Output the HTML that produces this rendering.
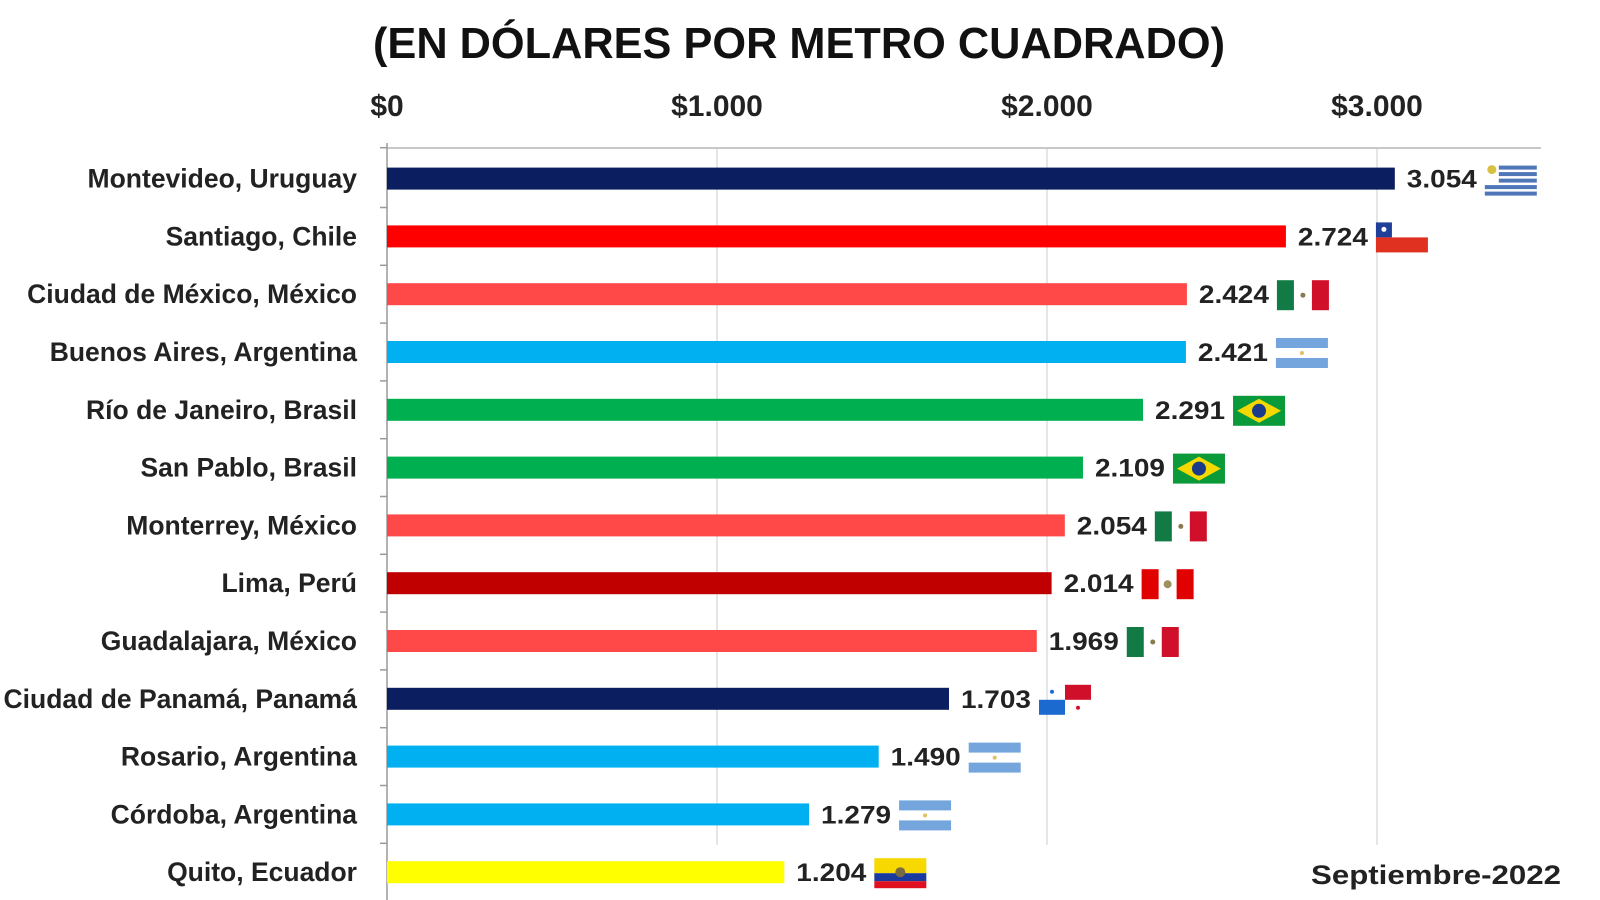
<!DOCTYPE html>
<html><head><meta charset="utf-8"><style>
html,body{margin:0;padding:0;background:#fff;}
svg{display:block;font-family:"Liberation Sans",sans-serif;}
</style></head><body>
<svg id="chart" width="1600" height="900" viewBox="0 0 1600 900" xmlns="http://www.w3.org/2000/svg">
<text x="799" y="58" text-anchor="middle" font-size="44" font-weight="bold" fill="#111" textLength="852" lengthAdjust="spacingAndGlyphs">(EN DÓLARES POR METRO CUADRADO)</text>
<text x="1561" y="884" text-anchor="end" font-size="27" font-weight="bold" fill="#222" textLength="250" lengthAdjust="spacingAndGlyphs">Septiembre-2022</text>
<g id="grid"></g><g id="bars"></g>
</svg>
<script>
const categories = ["Montevideo, Uruguay","Santiago, Chile","Ciudad de México, México","Buenos Aires, Argentina","Río de Janeiro, Brasil","San Pablo, Brasil","Monterrey, México","Lima, Perú","Guadalajara, México","Ciudad de Panamá, Panamá","Rosario, Argentina","Córdoba, Argentina","Quito, Ecuador"];
const values = [3054,2724,2424,2421,2291,2109,2054,2014,1969,1703,1490,1279,1204];
const valueLabels = ["3.054","2.724","2.424","2.421","2.291","2.109","2.054","2.014","1.969","1.703","1.490","1.279","1.204"];
const countries = ["uy","cl","mx","ar","br","br","mx","pe","mx","pa","ar","ar","ec"];
const tickValues = [0,1000,2000,3000];
const tickLabels = ["$0","$1.000","$2.000","$3.000"];

const NS="http://www.w3.org/2000/svg";
const colors={uy:"#0b1f60",cl:"#ff0000",mx:"#ff4848",ar:"#00b0f0",br:"#00b050",pe:"#c00000",pa:"#0b1f60",ec:"#ffff00"};
const x0=387, pxPer=0.330, plotTop=148, rowTop=178.6, step=57.8, barH=22;
const xs=v=>x0+v*pxPer;
const ys=i=>rowTop+step*i;
function mk(tag,attrs,parent){const e=document.createElementNS(NS,tag);for(const k in attrs)e.setAttribute(k,attrs[k]);parent.appendChild(e);return e;}
const grid=document.getElementById('grid'), bars=document.getElementById('bars');

tickValues.forEach((t,i)=>{
  if(t>0){const g=mk('line',{x1:xs(t),x2:xs(t),y1:plotTop,y2:845,stroke:'#d4d4d4','stroke-width':1.2},grid);
  
  }
  const tl=mk('text',{x:xs(t),y:116,'text-anchor':'middle','font-size':30,'font-weight':'bold',fill:'#222'},grid);
  tl.textContent=tickLabels[i];
  
  
});
const tline=mk('line',{x1:x0,x2:1541,y1:plotTop,y2:plotTop,stroke:'#c8c8c8','stroke-width':2},grid);


const yax=mk('line',{x1:x0,x2:x0,y1:plotTop-5,y2:900,stroke:'#9a9a9a','stroke-width':1.5},grid);


for(let i=0;i<=categories.length;i++){
  const y=ys(i)-step/2+(i===0?-2:0);
  const tk=mk('line',{x1:x0-7,x2:x0,y1:y,y2:y,stroke:'#9a9a9a','stroke-width':1.5},grid);
  
  
}

function flag(c,x,y,p){
  const g=mk('g',{transform:`translate(${x},${y})`},p);
  const W=52,H=30;
  if(c==='uy'){mk('rect',{x:0,y:0,width:W,height:H,fill:'#fff'},g);for(let k=0;k<5;k++)mk('rect',{x:k<3?14:0,y:k*6.5+1,width:k<3?W-14:W,height:4,fill:'#4f77b8'},g);mk('circle',{cx:7,cy:5,r:4.5,fill:'#d8c040'},g);}
  else if(c==='cl'){mk('rect',{x:0,y:0,width:16,height:15,fill:'#1f3f99'},g);mk('rect',{x:0,y:15,width:W,height:15,fill:'#e03020'},g);mk('circle',{cx:8,cy:7,r:2.5,fill:'#fff'},g);}
  else if(c==='mx'){mk('rect',{x:0,y:0,width:17,height:30,fill:'#117a45'},g);mk('rect',{x:35,y:0,width:17,height:30,fill:'#d0102a'},g);mk('circle',{cx:26,cy:15,r:2.5,fill:'#8a7a50'},g);}
  else if(c==='ar'){mk('rect',{x:0,y:0,width:W,height:10,fill:'#74a6dd'},g);mk('rect',{x:0,y:20,width:W,height:10,fill:'#74a6dd'},g);mk('circle',{cx:26,cy:15,r:2,fill:'#e0c060'},g);}
  else if(c==='br'){mk('rect',{x:0,y:0,width:W,height:H,fill:'#0a9a3a'},g);mk('polygon',{points:'26,3 48,15 26,27 4,15',fill:'#f5d800'},g);mk('circle',{cx:26,cy:15,r:7,fill:'#1a3a8a'},g);}
  else if(c==='pe'){mk('rect',{x:0,y:0,width:17,height:30,fill:'#e00000'},g);mk('rect',{x:35,y:0,width:17,height:30,fill:'#e00000'},g);mk('circle',{cx:26,cy:15,r:4,fill:'#a09060'},g);}
  else if(c==='pa'){mk('rect',{x:26,y:0,width:26,height:15,fill:'#d0102a'},g);mk('rect',{x:0,y:15,width:26,height:15,fill:'#1a6ad0'},g);mk('circle',{cx:13,cy:7,r:2,fill:'#1a6ad0'},g);mk('circle',{cx:39,cy:23,r:2,fill:'#d0102a'},g);}
  else if(c==='ec'){mk('rect',{x:0,y:0,width:W,height:15,fill:'#f7d800'},g);mk('rect',{x:0,y:15,width:W,height:8,fill:'#1a3aa0'},g);mk('rect',{x:0,y:23,width:W,height:7,fill:'#e01020'},g);mk('circle',{cx:26,cy:14,r:5,fill:'#7a6a40'},g);}
  return g;
}

categories.forEach((cat,i)=>{
  const cy=ys(i);
  const lab=mk('text',{x:357,y:cy+9,'text-anchor':'end','font-size':26.5,'font-weight':'bold',fill:'#222'},bars);
  lab.textContent=cat;
  
  
  const b=mk('rect',{x:x0,y:cy-barH/2,width:xs(values[i])-x0,height:barH,fill:colors[countries[i]]},bars);
  
  
  const vx=xs(values[i])+12;
  const vl=mk('text',{x:vx,y:cy+9,'font-size':25,'font-weight':'bold',fill:'#222',textLength:70,lengthAdjust:'spacingAndGlyphs'},bars);
  vl.textContent=valueLabels[i];
  
  
  const f=flag(countries[i],vx+78,cy-14,bars);
  
  
});
</script>
</body></html>
